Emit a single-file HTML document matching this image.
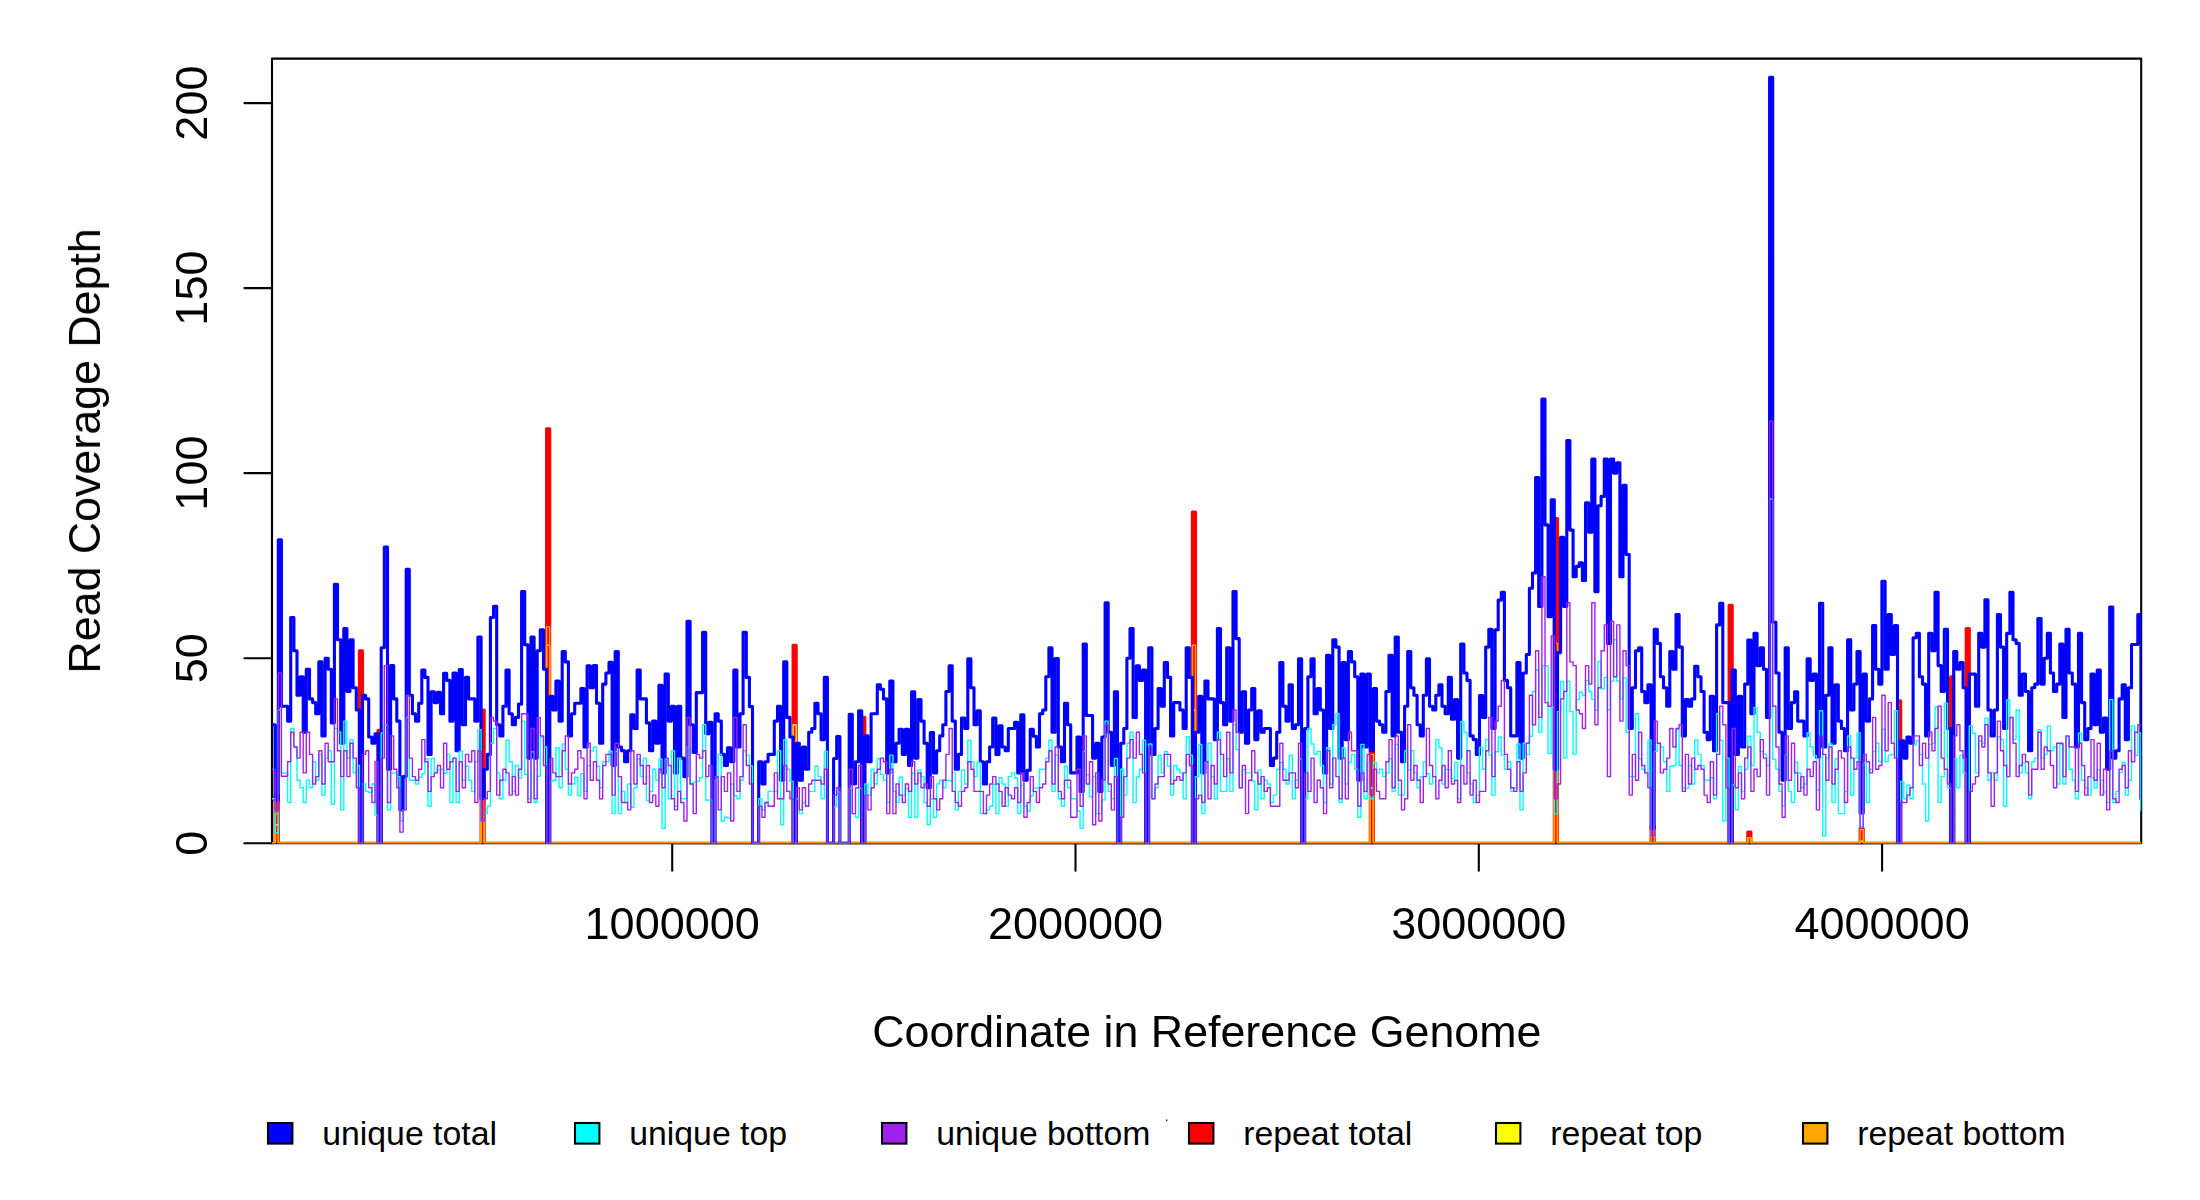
<!DOCTYPE html><html><head><meta charset="utf-8"><title>Read Coverage Depth</title>
<style>html,body{margin:0;padding:0;background:#fff}svg{display:block}text{font-family:"Liberation Sans",sans-serif;fill:#000}</style></head><body>
<svg width="2200" height="1200" viewBox="0 0 2200 1200">
<rect width="2200" height="1200" fill="#fff"/>
<g fill="none" stroke="#000" stroke-width="2.08" stroke-linecap="round" stroke-linejoin="round">
<rect x="272.0" y="58.6" width="1869.2" height="784.6"/>
<path d="M672.2 843.2H1882.1"/>
<path d="M672.2 843.2V870.8"/>
<path d="M1075.5 843.2V870.8"/>
<path d="M1478.8 843.2V870.8"/>
<path d="M1882.1 843.2V870.8"/>
<path d="M272.0 843.2V103.1"/>
<path d="M272.0 843.2H244.4"/>
<path d="M272.0 658.2H244.4"/>
<path d="M272.0 473.1H244.4"/>
<path d="M272.0 288.1H244.4"/>
<path d="M272.0 103.1H244.4"/>
</g>
<g font-size="45px" text-anchor="middle" opacity="0.999">
<text x="672.2" y="939.3">1000000</text>
<text x="1075.5" y="939.3">2000000</text>
<text x="1478.8" y="939.3">3000000</text>
<text x="1882.1" y="939.3">4000000</text>
<text transform="translate(206.9 843.2) rotate(-90)">0</text>
<text transform="translate(206.9 658.2) rotate(-90)">50</text>
<text transform="translate(206.9 473.1) rotate(-90)">100</text>
<text transform="translate(206.9 288.1) rotate(-90)">150</text>
<text transform="translate(206.9 103.1) rotate(-90)">200</text>
<text x="1206.8" y="1046.8" font-size="44.75px">Coordinate in Reference Genome</text>
<text transform="translate(100.0 450.9) rotate(-90)" font-size="44.75px">Read Coverage Depth</text>
</g>
<clipPath id="pc"><rect x="272.00" y="58.65" width="1869.25" height="784.55"/></clipPath>
<g fill="none" stroke-linejoin="round" stroke-linecap="round" clip-path="url(#pc)">
<path stroke="#ff0000" stroke-width="3.1" d="M272.0 843.2H275.1V795.1H278.3V843.2H281.4H284.5H287.6H290.7H293.9H297.0H300.1H303.2H306.3H309.5H312.6H315.7H318.8H321.9H325.1H328.2H331.3H334.4H337.5H340.7H343.8H346.9H350.0H353.1H356.3H359.4V650.8H362.5V843.2H365.6H368.7H371.9H375.0H378.1V730.3H381.2V843.2H384.3H387.5H390.6H393.7H396.8H399.9H403.1H406.2H409.3H412.4H415.5H418.7H421.8H424.9H428.0H431.1H434.3H437.4H440.5H443.6H446.7H449.9H453.0H456.1H459.2H462.3H465.5H468.6H471.7H474.8H477.9H481.1V710.0H484.2V843.2H487.3H490.4H493.5H496.7H499.8H502.9H506.0H509.1H512.3H515.4H518.5H521.6H524.7H527.9H531.0H534.1H537.2H540.3H543.5H546.6V428.7H549.7V843.2H552.8H555.9H559.1H562.2H565.3H568.4H571.5H574.7H577.8H580.9H584.0H587.1H590.3H593.4H596.5H599.6H602.7H605.9H609.0H612.1H615.2H618.3H621.5H624.6H627.7H630.8H633.9H637.1H640.2H643.3H646.4H649.5H652.7H655.8H658.9H662.0H665.1H668.3H671.4H674.5H677.6H680.7H683.9H687.0H690.1H693.2H696.3H699.5H702.6H705.7H708.8H711.9H715.1H718.2H721.3H724.4H727.5H730.7H733.8H736.9H740.0H743.1H746.3H749.4H752.5H755.6H758.7H761.9H765.0H768.1H771.2H774.3H777.5H780.6H783.7H786.8H789.9H793.1V645.2H796.2V843.2H799.3H802.4H805.5H808.7H811.8H814.9H818.0H821.1H824.3H827.4H830.5H833.6H836.7H839.9H843.0H846.1H849.2H852.3H855.5H858.6H861.7V717.4H864.8V843.2H867.9H871.1H874.2H877.3H880.4H883.5H886.7H889.8H892.9H896.0H899.1H902.3H905.4H908.5H911.6H914.7H917.9H921.0H924.1H927.2H930.3H933.5H936.6H939.7H942.8H945.9H949.1H952.2H955.3H958.4H961.5H964.7H967.8H970.9H974.0H977.1H980.3H983.4H986.5H989.6H992.7H995.9H999.0H1002.1H1005.2H1008.3H1011.5H1014.6H1017.7H1020.8H1023.9H1027.1H1030.2H1033.3H1036.4H1039.5H1042.7H1045.8H1048.9H1052.0H1055.1H1058.3H1061.4H1064.5H1067.6H1070.7H1073.9H1077.0H1080.1H1083.2H1086.3H1089.5H1092.6H1095.7H1098.8H1101.9H1105.1H1108.2H1111.3H1114.4H1117.5H1120.7H1123.8H1126.9H1130.0H1133.1H1136.3H1139.4H1142.5H1145.6H1148.7H1151.9H1155.0H1158.1H1161.2H1164.3H1167.5H1170.6H1173.7H1176.8H1179.9H1183.1H1186.2H1189.3H1192.4V512.0H1195.5V843.2H1198.7H1201.8H1204.9H1208.0H1211.1H1214.3H1217.4H1220.5H1223.6H1226.7H1229.9H1233.0H1236.1H1239.2H1242.3H1245.5H1248.6H1251.7H1254.8H1257.9H1261.1H1264.2H1267.3H1270.4H1273.5H1276.7H1279.8H1282.9H1286.0H1289.1H1292.3H1295.4H1298.5H1301.6H1304.7H1307.9H1311.0H1314.1H1317.2H1320.3H1323.5H1326.6H1329.7H1332.8H1335.9H1339.1H1342.2H1345.3H1348.4H1351.5H1354.7H1357.8H1360.9H1364.0H1367.1H1370.3V698.9H1373.4V843.2H1376.5H1379.6H1382.7H1385.9H1389.0H1392.1H1395.2H1398.3H1401.5H1404.6H1407.7H1410.8H1413.9H1417.1H1420.2H1423.3H1426.4H1429.5H1432.7H1435.8H1438.9H1442.0H1445.1H1448.3H1451.4H1454.5H1457.6H1460.7H1463.9H1467.0H1470.1H1473.2H1476.3H1479.5H1482.6H1485.7H1488.8H1491.9H1495.1H1498.2H1501.3H1504.4H1507.5H1510.7H1513.8H1516.9H1520.0H1523.1H1526.3H1529.4H1532.5H1535.6H1538.7H1541.9H1545.0H1548.1H1551.2H1554.3V518.6H1557.5V843.2H1560.6H1563.7H1566.8H1569.9H1573.1H1576.2H1579.3H1582.4H1585.5H1588.7H1591.8H1594.9H1598.0H1601.1H1604.3H1607.4H1610.5H1613.6H1616.7H1619.9H1623.0H1626.1H1629.2H1632.3H1635.5H1638.6H1641.7H1644.8H1647.9H1651.1V826.5H1654.2V843.2H1657.3H1660.4H1663.5H1666.7H1669.8H1672.9H1676.0H1679.1H1682.3H1685.4H1688.5H1691.6H1694.7H1697.9H1701.0H1704.1H1707.2H1710.3H1713.5H1716.6H1719.7H1722.8H1725.9H1729.1V605.2H1732.2V843.2H1735.3H1738.4H1741.5H1744.7H1747.8V832.1H1750.9V843.2H1754.0H1757.1H1760.3H1763.4H1766.5H1769.6H1772.7H1775.9H1779.0H1782.1H1785.2H1788.3H1791.5H1794.6H1797.7H1800.8H1803.9H1807.1H1810.2H1813.3H1816.4H1819.5H1822.7H1825.8H1828.9H1832.0H1835.1H1838.3H1841.4H1844.5H1847.6H1850.7H1853.9H1857.0H1860.1V828.4H1863.2V843.2H1866.3H1869.5H1872.6H1875.7H1878.8H1881.9H1885.1H1888.2H1891.3H1894.4H1897.5V700.7H1900.7V843.2H1903.8H1906.9H1910.0H1913.1H1916.3H1919.4H1922.5H1925.6H1928.7H1931.9H1935.0H1938.1H1941.2H1944.3H1947.5H1950.6V676.7H1953.7V843.2H1956.8H1959.9H1963.1H1966.2V628.6H1969.3V843.2H1972.4H1975.5H1978.7H1981.8H1984.9H1988.0H1991.1H1994.3H1997.4H2000.5H2003.6H2006.7H2009.9H2013.0H2016.1H2019.2H2022.3H2025.5H2028.6H2031.7H2034.8H2037.9H2041.1H2044.2H2047.3H2050.4H2053.5H2056.7H2059.8H2062.9H2066.0H2069.1H2072.3H2075.4H2078.5H2081.6H2084.7H2087.9H2091.0H2094.1H2097.2H2100.3H2103.5H2106.6H2109.7H2112.8H2115.9H2119.1H2122.2H2125.3H2128.4H2131.5H2134.7H2137.8H2140.9"/>
<path stroke="#ffff00" stroke-width="1.4" d="M272.0 843.2H275.1V824.7H278.3V843.2H281.4H284.5H287.6H290.7H293.9H297.0H300.1H303.2H306.3H309.5H312.6H315.7H318.8H321.9H325.1H328.2H331.3H334.4H337.5H340.7H343.8H346.9H350.0H353.1H356.3H359.4V747.0H362.5V843.2H365.6H368.7H371.9H375.0H378.1V787.7H381.2V843.2H384.3H387.5H390.6H393.7H396.8H399.9H403.1H406.2H409.3H412.4H415.5H418.7H421.8H424.9H428.0H431.1H434.3H437.4H440.5H443.6H446.7H449.9H453.0H456.1H459.2H462.3H465.5H468.6H471.7H474.8H477.9H481.1V780.3H484.2V843.2H487.3H490.4H493.5H496.7H499.8H502.9H506.0H509.1H512.3H515.4H518.5H521.6H524.7H527.9H531.0H534.1H537.2H540.3H543.5H546.6V645.2H549.7V843.2H552.8H555.9H559.1H562.2H565.3H568.4H571.5H574.7H577.8H580.9H584.0H587.1H590.3H593.4H596.5H599.6H602.7H605.9H609.0H612.1H615.2H618.3H621.5H624.6H627.7H630.8H633.9H637.1H640.2H643.3H646.4H649.5H652.7H655.8H658.9H662.0H665.1H668.3H671.4H674.5H677.6H680.7H683.9H687.0H690.1H693.2H696.3H699.5H702.6H705.7H708.8H711.9H715.1H718.2H721.3H724.4H727.5H730.7H733.8H736.9H740.0H743.1H746.3H749.4H752.5H755.6H758.7H761.9H765.0H768.1H771.2H774.3H777.5H780.6H783.7H786.8H789.9H793.1V724.8H796.2V843.2H799.3H802.4H805.5H808.7H811.8H814.9H818.0H821.1H824.3H827.4H830.5H833.6H836.7H839.9H843.0H846.1H849.2H852.3H855.5H858.6H861.7V780.3H864.8V843.2H867.9H871.1H874.2H877.3H880.4H883.5H886.7H889.8H892.9H896.0H899.1H902.3H905.4H908.5H911.6H914.7H917.9H921.0H924.1H927.2H930.3H933.5H936.6H939.7H942.8H945.9H949.1H952.2H955.3H958.4H961.5H964.7H967.8H970.9H974.0H977.1H980.3H983.4H986.5H989.6H992.7H995.9H999.0H1002.1H1005.2H1008.3H1011.5H1014.6H1017.7H1020.8H1023.9H1027.1H1030.2H1033.3H1036.4H1039.5H1042.7H1045.8H1048.9H1052.0H1055.1H1058.3H1061.4H1064.5H1067.6H1070.7H1073.9H1077.0H1080.1H1083.2H1086.3H1089.5H1092.6H1095.7H1098.8H1101.9H1105.1H1108.2H1111.3H1114.4H1117.5H1120.7H1123.8H1126.9H1130.0H1133.1H1136.3H1139.4H1142.5H1145.6H1148.7H1151.9H1155.0H1158.1H1161.2H1164.3H1167.5H1170.6H1173.7H1176.8H1179.9H1183.1H1186.2H1189.3H1192.4V710.0H1195.5V843.2H1198.7H1201.8H1204.9H1208.0H1211.1H1214.3H1217.4H1220.5H1223.6H1226.7H1229.9H1233.0H1236.1H1239.2H1242.3H1245.5H1248.6H1251.7H1254.8H1257.9H1261.1H1264.2H1267.3H1270.4H1273.5H1276.7H1279.8H1282.9H1286.0H1289.1H1292.3H1295.4H1298.5H1301.6H1304.7H1307.9H1311.0H1314.1H1317.2H1320.3H1323.5H1326.6H1329.7H1332.8H1335.9H1339.1H1342.2H1345.3H1348.4H1351.5H1354.7H1357.8H1360.9H1364.0H1367.1H1370.3V787.7H1373.4V843.2H1376.5H1379.6H1382.7H1385.9H1389.0H1392.1H1395.2H1398.3H1401.5H1404.6H1407.7H1410.8H1413.9H1417.1H1420.2H1423.3H1426.4H1429.5H1432.7H1435.8H1438.9H1442.0H1445.1H1448.3H1451.4H1454.5H1457.6H1460.7H1463.9H1467.0H1470.1H1473.2H1476.3H1479.5H1482.6H1485.7H1488.8H1491.9H1495.1H1498.2H1501.3H1504.4H1507.5H1510.7H1513.8H1516.9H1520.0H1523.1H1526.3H1529.4H1532.5H1535.6H1538.7H1541.9H1545.0H1548.1H1551.2H1554.3V721.1H1557.5V843.2H1560.6H1563.7H1566.8H1569.9H1573.1H1576.2H1579.3H1582.4H1585.5H1588.7H1591.8H1594.9H1598.0H1601.1H1604.3H1607.4H1610.5H1613.6H1616.7H1619.9H1623.0H1626.1H1629.2H1632.3H1635.5H1638.6H1641.7H1644.8H1647.9H1651.1H1654.2H1657.3H1660.4H1663.5H1666.7H1669.8H1672.9H1676.0H1679.1H1682.3H1685.4H1688.5H1691.6H1694.7H1697.9H1701.0H1704.1H1707.2H1710.3H1713.5H1716.6H1719.7H1722.8H1725.9H1729.1V724.8H1732.2V843.2H1735.3H1738.4H1741.5H1744.7H1747.8V837.6H1750.9V843.2H1754.0H1757.1H1760.3H1763.4H1766.5H1769.6H1772.7H1775.9H1779.0H1782.1H1785.2H1788.3H1791.5H1794.6H1797.7H1800.8H1803.9H1807.1H1810.2H1813.3H1816.4H1819.5H1822.7H1825.8H1828.9H1832.0H1835.1H1838.3H1841.4H1844.5H1847.6H1850.7H1853.9H1857.0H1860.1V841.3H1863.2V843.2H1866.3H1869.5H1872.6H1875.7H1878.8H1881.9H1885.1H1888.2H1891.3H1894.4H1897.5V772.9H1900.7V843.2H1903.8H1906.9H1910.0H1913.1H1916.3H1919.4H1922.5H1925.6H1928.7H1931.9H1935.0H1938.1H1941.2H1944.3H1947.5H1950.6V761.8H1953.7V843.2H1956.8H1959.9H1963.1H1966.2V735.9H1969.3V843.2H1972.4H1975.5H1978.7H1981.8H1984.9H1988.0H1991.1H1994.3H1997.4H2000.5H2003.6H2006.7H2009.9H2013.0H2016.1H2019.2H2022.3H2025.5H2028.6H2031.7H2034.8H2037.9H2041.1H2044.2H2047.3H2050.4H2053.5H2056.7H2059.8H2062.9H2066.0H2069.1H2072.3H2075.4H2078.5H2081.6H2084.7H2087.9H2091.0H2094.1H2097.2H2100.3H2103.5H2106.6H2109.7H2112.8H2115.9H2119.1H2122.2H2125.3H2128.4H2131.5H2134.7H2137.8H2140.9"/>
<path stroke="#ffa500" stroke-width="1.4" d="M272.0 843.2H275.1V813.6H278.3V843.2H281.4H284.5H287.6H290.7H293.9H297.0H300.1H303.2H306.3H309.5H312.6H315.7H318.8H321.9H325.1H328.2H331.3H334.4H337.5H340.7H343.8H346.9H350.0H353.1H356.3H359.4V747.0H362.5V843.2H365.6H368.7H371.9H375.0H378.1V785.8H381.2V843.2H384.3H387.5H390.6H393.7H396.8H399.9H403.1H406.2H409.3H412.4H415.5H418.7H421.8H424.9H428.0H431.1H434.3H437.4H440.5H443.6H446.7H449.9H453.0H456.1H459.2H462.3H465.5H468.6H471.7H474.8H477.9H481.1V772.9H484.2V843.2H487.3H490.4H493.5H496.7H499.8H502.9H506.0H509.1H512.3H515.4H518.5H521.6H524.7H527.9H531.0H534.1H537.2H540.3H543.5H546.6V626.7H549.7V843.2H552.8H555.9H559.1H562.2H565.3H568.4H571.5H574.7H577.8H580.9H584.0H587.1H590.3H593.4H596.5H599.6H602.7H605.9H609.0H612.1H615.2H618.3H621.5H624.6H627.7H630.8H633.9H637.1H640.2H643.3H646.4H649.5H652.7H655.8H658.9H662.0H665.1H668.3H671.4H674.5H677.6H680.7H683.9H687.0H690.1H693.2H696.3H699.5H702.6H705.7H708.8H711.9H715.1H718.2H721.3H724.4H727.5H730.7H733.8H736.9H740.0H743.1H746.3H749.4H752.5H755.6H758.7H761.9H765.0H768.1H771.2H774.3H777.5H780.6H783.7H786.8H789.9H793.1V741.4H796.2V843.2H799.3H802.4H805.5H808.7H811.8H814.9H818.0H821.1H824.3H827.4H830.5H833.6H836.7H839.9H843.0H846.1H849.2H852.3H855.5H858.6H861.7V780.3H864.8V843.2H867.9H871.1H874.2H877.3H880.4H883.5H886.7H889.8H892.9H896.0H899.1H902.3H905.4H908.5H911.6H914.7H917.9H921.0H924.1H927.2H930.3H933.5H936.6H939.7H942.8H945.9H949.1H952.2H955.3H958.4H961.5H964.7H967.8H970.9H974.0H977.1H980.3H983.4H986.5H989.6H992.7H995.9H999.0H1002.1H1005.2H1008.3H1011.5H1014.6H1017.7H1020.8H1023.9H1027.1H1030.2H1033.3H1036.4H1039.5H1042.7H1045.8H1048.9H1052.0H1055.1H1058.3H1061.4H1064.5H1067.6H1070.7H1073.9H1077.0H1080.1H1083.2H1086.3H1089.5H1092.6H1095.7H1098.8H1101.9H1105.1H1108.2H1111.3H1114.4H1117.5H1120.7H1123.8H1126.9H1130.0H1133.1H1136.3H1139.4H1142.5H1145.6H1148.7H1151.9H1155.0H1158.1H1161.2H1164.3H1167.5H1170.6H1173.7H1176.8H1179.9H1183.1H1186.2H1189.3H1192.4V645.2H1195.5V843.2H1198.7H1201.8H1204.9H1208.0H1211.1H1214.3H1217.4H1220.5H1223.6H1226.7H1229.9H1233.0H1236.1H1239.2H1242.3H1245.5H1248.6H1251.7H1254.8H1257.9H1261.1H1264.2H1267.3H1270.4H1273.5H1276.7H1279.8H1282.9H1286.0H1289.1H1292.3H1295.4H1298.5H1301.6H1304.7H1307.9H1311.0H1314.1H1317.2H1320.3H1323.5H1326.6H1329.7H1332.8H1335.9H1339.1H1342.2H1345.3H1348.4H1351.5H1354.7H1357.8H1360.9H1364.0H1367.1H1370.3V754.4H1373.4V843.2H1376.5H1379.6H1382.7H1385.9H1389.0H1392.1H1395.2H1398.3H1401.5H1404.6H1407.7H1410.8H1413.9H1417.1H1420.2H1423.3H1426.4H1429.5H1432.7H1435.8H1438.9H1442.0H1445.1H1448.3H1451.4H1454.5H1457.6H1460.7H1463.9H1467.0H1470.1H1473.2H1476.3H1479.5H1482.6H1485.7H1488.8H1491.9H1495.1H1498.2H1501.3H1504.4H1507.5H1510.7H1513.8H1516.9H1520.0H1523.1H1526.3H1529.4H1532.5H1535.6H1538.7H1541.9H1545.0H1548.1H1551.2H1554.3V643.4H1557.5V843.2H1560.6H1563.7H1566.8H1569.9H1573.1H1576.2H1579.3H1582.4H1585.5H1588.7H1591.8H1594.9H1598.0H1601.1H1604.3H1607.4H1610.5H1613.6H1616.7H1619.9H1623.0H1626.1H1629.2H1632.3H1635.5H1638.6H1641.7H1644.8H1647.9H1651.1V826.5H1654.2V843.2H1657.3H1660.4H1663.5H1666.7H1669.8H1672.9H1676.0H1679.1H1682.3H1685.4H1688.5H1691.6H1694.7H1697.9H1701.0H1704.1H1707.2H1710.3H1713.5H1716.6H1719.7H1722.8H1725.9H1729.1V724.8H1732.2V843.2H1735.3H1738.4H1741.5H1744.7H1747.8V837.6H1750.9V843.2H1754.0H1757.1H1760.3H1763.4H1766.5H1769.6H1772.7H1775.9H1779.0H1782.1H1785.2H1788.3H1791.5H1794.6H1797.7H1800.8H1803.9H1807.1H1810.2H1813.3H1816.4H1819.5H1822.7H1825.8H1828.9H1832.0H1835.1H1838.3H1841.4H1844.5H1847.6H1850.7H1853.9H1857.0H1860.1V829.5H1863.2V843.2H1866.3H1869.5H1872.6H1875.7H1878.8H1881.9H1885.1H1888.2H1891.3H1894.4H1897.5V771.0H1900.7V843.2H1903.8H1906.9H1910.0H1913.1H1916.3H1919.4H1922.5H1925.6H1928.7H1931.9H1935.0H1938.1H1941.2H1944.3H1947.5H1950.6V758.1H1953.7V843.2H1956.8H1959.9H1963.1H1966.2V735.9H1969.3V843.2H1972.4H1975.5H1978.7H1981.8H1984.9H1988.0H1991.1H1994.3H1997.4H2000.5H2003.6H2006.7H2009.9H2013.0H2016.1H2019.2H2022.3H2025.5H2028.6H2031.7H2034.8H2037.9H2041.1H2044.2H2047.3H2050.4H2053.5H2056.7H2059.8H2062.9H2066.0H2069.1H2072.3H2075.4H2078.5H2081.6H2084.7H2087.9H2091.0H2094.1H2097.2H2100.3H2103.5H2106.6H2109.7H2112.8H2115.9H2119.1H2122.2H2125.3H2128.4H2131.5H2134.7H2137.8H2140.9"/>
<path stroke="#0000ff" stroke-width="3.1" d="M272.0 724.8H275.1V800.3H278.3V539.7H281.4V706.3H284.5H287.6V721.1H290.7V617.5H293.9V650.8H297.0V695.2H300.1V676.7H303.2V732.2H306.3V669.3H309.5V698.9H312.6V702.6H315.7V713.7H318.8V661.9H321.9V735.9H325.1V658.2H328.2V669.3H331.3V722.9H334.4V584.2H337.5V639.7H340.7V743.3H343.8V628.6H346.9V691.5H350.0V639.7H353.1V687.8H356.3V710.0H359.4V843.2H362.5V695.2H365.6V698.9H368.7V737.0H371.9V743.3H375.0V733.7H378.1V843.2H381.2V647.8H384.3V547.1H387.5V769.2H390.6V665.6H393.7V698.9H396.8V721.1H399.9V809.9H403.1V776.6H406.2V569.3H409.3V695.2H412.4V713.7H415.5V721.1H418.7V703.3H421.8V670.0H424.9V677.4H428.0V754.4H431.1V691.8H434.3V702.6H437.4V692.2H440.5V713.7H443.6V673.3H446.7V680.4H449.9V721.1H453.0V673.0H456.1V750.7H459.2V669.6H462.3V724.8H465.5V677.4H468.6V698.9H471.7H474.8V721.1H477.9V637.1H481.1V798.8H484.2V769.2H487.3V754.4H490.4V617.5H493.5V606.4H496.7V724.8H499.8V735.9H502.9V706.3H506.0V670.0H509.1V713.7H512.3V724.8H515.4V717.4H518.5V704.1H521.6V591.6H524.7V644.8H527.9V758.1H531.0V637.1H534.1V758.1H537.2V650.8H540.3V629.7H543.5V669.3H546.6V843.2H549.7V696.3H552.8V710.0H555.9V681.1H559.1V721.1H562.2V651.5H565.3V661.9H568.4V735.9H571.5V713.7H574.7V703.3H577.8H580.9V688.5H584.0V747.0H587.1V665.9H590.3V687.8H593.4V665.6H596.5V703.3H599.6V743.3H602.7V684.1H605.9V673.0H609.0V662.2H612.1V765.5H615.2V651.5H618.3V747.0H621.5V750.7H624.6V761.8H627.7V750.7H630.8V714.8H633.9V728.5H637.1V670.0H640.2V698.9H643.3H646.4V722.9H649.5V750.7H652.7V721.1H655.8V743.3H658.9V685.2H662.0V772.9H665.1V674.1H668.3V721.1H671.4V706.3H674.5V772.9H677.6V706.3H680.7V758.1H683.9V776.6H687.0V621.2H690.1V724.8H693.2V752.5H696.3V692.6H699.5H702.6V632.3H705.7V733.7H708.8V722.2H711.9V843.2H715.1V713.7H718.2V721.1H721.3V754.4H724.4V765.5H727.5V747.7H730.7V761.8H733.8V670.0H736.9V747.0H740.0V713.7H743.1V632.3H746.3V677.4H749.4V706.6H752.5V843.2H755.6H758.7V761.8H761.9V784.0H765.0V761.8H768.1V754.4H771.2H774.3V721.1H777.5V706.3H780.6V780.3H783.7V661.9H786.8V717.4H789.9V737.0H793.1V843.2H796.2V743.3H799.3V780.3H802.4V747.0H805.5V769.2H808.7V732.2H811.8V728.5H814.9V703.3H818.0V713.7H821.1V739.6H824.3V677.4H827.4V843.2H830.5H833.6V758.5H836.7V736.6H839.9V843.2H843.0H846.1H849.2V714.4H852.3V784.0H855.5V761.8H858.6V710.7H861.7V843.2H864.8V735.9H867.9V761.8H871.1V713.7H874.2H877.3V684.8H880.4V689.3H883.5V698.9H886.7V772.9H889.8V681.1H892.9V761.8H896.0V743.3H899.1V729.2H902.3V754.4H905.4V729.2H908.5V765.5H911.6V691.8H914.7V758.1H917.9V699.6H921.0V721.1H924.1V743.3H927.2V787.7H930.3V732.5H933.5V772.9H936.6V750.7H939.7V735.9H942.8V724.8H945.9V691.5H949.1V665.9H952.2V721.1H955.3V769.2H958.4V754.4H961.5V718.1H964.7V728.5H967.8V658.9H970.9V687.8H974.0V724.8H977.1V710.7H980.3V761.8H983.4V784.0H986.5V761.8H989.6V747.0H992.7V718.1H995.9V754.4H999.0V725.9H1002.1V747.0H1005.2V750.7H1008.3V728.5H1011.5H1014.6V722.2H1017.7V772.9H1020.8V714.8H1023.9V780.3H1027.1V770.3H1030.2V729.2H1033.3V736.2H1036.4V747.0H1039.5V713.7H1042.7V710.0H1045.8V676.7H1048.9V647.8H1052.0V732.2H1055.1V658.5H1058.3V747.0H1061.4V761.8H1064.5V703.3H1067.6V724.8H1070.7V772.9H1073.9H1077.0V737.0H1080.1V791.4H1083.2V644.1H1086.3V715.5H1089.5H1092.6V758.1H1095.7V743.3H1098.8V791.4H1101.9V737.0H1105.1V602.7H1108.2V732.2H1111.3V765.5H1114.4V691.8H1117.5V843.2H1120.7V743.3H1123.8V728.5H1126.9V658.2H1130.0V628.6H1133.1V717.4H1136.3V665.9H1139.4V680.4H1142.5V670.0H1145.6V843.2H1148.7V647.8H1151.9V754.4H1155.0V728.5H1158.1V688.5H1161.2V706.3H1164.3V662.6H1167.5V677.4H1170.6V735.9H1173.7V702.6H1176.8H1179.9V710.0H1183.1V728.5H1186.2V647.8H1189.3V677.4H1192.4V843.2H1195.5V732.2H1198.7V696.3H1201.8V772.9H1204.9V681.1H1208.0V698.9H1211.1H1214.3V739.6H1217.4V628.6H1220.5V702.6H1223.6V724.8H1226.7V647.8H1229.9V721.1H1233.0V591.6H1236.1V638.6H1239.2V732.2H1242.3V691.8H1245.5V743.3H1248.6V710.0H1251.7V688.5H1254.8V739.6H1257.9V710.7H1261.1V732.2H1264.2V728.5H1267.3H1270.4V765.5H1273.5V758.1H1276.7V732.2H1279.8V662.6H1282.9V706.3H1286.0V721.1H1289.1V684.8H1292.3V728.5H1295.4V724.8H1298.5V658.9H1301.6V843.2H1304.7V728.5H1307.9V676.7H1311.0V658.9H1314.1V713.7H1317.2V688.5H1320.3V710.0H1323.5V772.9H1326.6V655.2H1329.7V728.5H1332.8V639.7H1335.9V647.1H1339.1V758.1H1342.2V662.6H1345.3V739.6H1348.4V651.5H1351.5V661.9H1354.7V676.7H1357.8V780.3H1360.9V674.1H1364.0V747.0H1367.1V674.1H1370.3V750.7H1373.4V688.5H1376.5V721.1H1379.6V724.8H1382.7V732.2H1385.9V691.5H1389.0V655.2H1392.1V735.9H1395.2V637.1H1398.3V732.2H1401.5V761.8H1404.6V706.3H1407.7V651.5H1410.8V687.8H1413.9V695.2H1417.1V724.8H1420.2V735.9H1423.3V695.2H1426.4V658.9H1429.5V706.3H1432.7V710.0H1435.8V695.2H1438.9V684.8H1442.0V706.3H1445.1V713.7H1448.3V677.4H1451.4V719.2H1454.5V699.6H1457.6V758.1H1460.7V644.1H1463.9V673.0H1467.0V680.4H1470.1V735.9H1473.2V739.6H1476.3V754.4H1479.5V695.5H1482.6V717.4H1485.7V647.1H1488.8V629.3H1491.9V728.5H1495.1V629.7H1498.2V600.1H1501.3V592.3H1504.4V680.4H1507.5V687.8H1510.7V735.9H1513.8H1516.9V662.6H1520.0V758.1H1523.1V673.0H1526.3V654.5H1529.4V588.2H1532.5V573.0H1535.6V477.6H1538.7V606.4H1541.9V399.1H1545.0V524.9H1548.1V616.7H1551.2V499.8H1554.3V769.2H1557.5V652.6H1560.6V537.2H1563.7V606.4H1566.8V440.6H1569.9V530.1H1573.1V576.7H1576.2V566.4H1579.3V562.7H1582.4V580.5H1585.5V502.7H1588.7V532.3H1591.8V459.1H1594.9V591.6H1598.0V505.7H1601.1V496.4H1604.3V459.1H1607.4V643.4H1610.5V459.1H1613.6V473.1H1616.7V462.8H1619.9V576.7H1623.0V485.3H1626.1V554.5H1629.2V728.5H1632.3V687.8H1635.5V650.8H1638.6V647.8H1641.7V691.5H1644.8V702.6H1647.9V684.8H1651.1V828.4H1654.2V629.3H1657.3V643.4H1660.4V676.7H1663.5V687.8H1666.7V706.3H1669.8V651.5H1672.9V669.3H1676.0V614.5H1679.1V647.1H1682.3V735.9H1685.4V699.6H1688.5V706.3H1691.6V698.9H1694.7V666.3H1697.9V676.7H1701.0V691.5H1704.1V732.2H1707.2V739.6H1710.3V696.3H1713.5V750.7H1716.6V624.9H1719.7V603.4H1722.8V702.6H1725.9H1729.1V843.2H1732.2V670.0H1735.3V754.4H1738.4V696.3H1741.5V747.0H1744.7V684.1H1747.8V640.0H1750.9V713.7H1754.0V633.4H1757.1V665.6H1760.3V647.8H1763.4V669.3H1766.5V717.4H1769.6V77.2H1772.7V622.3H1775.9V673.0H1779.0V732.2H1782.1V780.3H1785.2V647.8H1788.3V728.5H1791.5V702.6H1794.6V691.8H1797.7V721.1H1800.8H1803.9V735.9H1807.1V658.9H1810.2V680.4H1813.3V674.1H1816.4V757.0H1819.5V603.4H1822.7V747.0H1825.8V695.2H1828.9V647.8H1832.0V743.3H1835.1V684.8H1838.3V721.1H1841.4V728.5H1844.5V750.7H1847.6V639.7H1850.7V710.0H1853.9V684.1H1857.0V651.5H1860.1V812.9H1863.2V674.1H1866.3V721.1H1869.5V698.9H1872.6V625.6H1875.7V669.3H1878.8V684.1H1881.9V581.2H1885.1V669.3H1888.2V614.5H1891.3V654.5H1894.4V625.6H1897.5V843.2H1900.7V740.7H1903.8V758.1H1906.9V737.0H1910.0V743.3H1913.1V637.8H1916.3V633.4H1919.4V676.7H1922.5V684.1H1925.6V735.9H1928.7V633.4H1931.9V650.8H1935.0V592.3H1938.1V665.6H1941.2V691.5H1944.3V629.3H1947.5V728.5H1950.6V843.2H1953.7V651.5H1956.8V669.3H1959.9V662.6H1963.1V687.8H1966.2V843.2H1969.3V674.1H1972.4H1975.5V706.3H1978.7V633.4H1981.8V647.1H1984.9V599.7H1988.0V710.0H1991.1V735.9H1994.3V710.0H1997.4V614.5H2000.5V647.1H2003.6V728.5H2006.7V633.4H2009.9V592.3H2013.0V639.7H2016.1V643.4H2019.2V695.2H2022.3V674.1H2025.5V691.5H2028.6V750.7H2031.7V687.8H2034.8V684.1H2037.9V618.6H2041.1V684.1H2044.2V658.2H2047.3V633.4H2050.4V673.0H2053.5V691.5H2056.7V684.1H2059.8V644.1H2062.9V717.4H2066.0V629.3H2069.1V673.0H2072.3V684.1H2075.4V747.0H2078.5V633.4H2081.6V702.6H2084.7V739.6H2087.9V728.5H2091.0V674.1H2094.1V724.8H2097.2V670.0H2100.3V732.2H2103.5V718.1H2106.6V769.2H2109.7V607.1H2112.8V758.1H2115.9V750.7H2119.1V698.9H2122.2V684.8H2125.3V739.6H2128.4V687.8H2131.5V644.5H2134.7H2137.8V614.5H2140.9V798.8"/>
<path stroke="#00ffff" stroke-width="1.4" d="M272.0 798.8H275.1V832.8H278.3V710.0H281.4V773.3H284.5H287.6V802.5H290.7V728.5H293.9V747.0H297.0V780.3H300.1V787.7H303.2V802.5H306.3V780.3H309.5V787.7H312.6V761.8H315.7V780.3H318.8V754.4H321.9V795.1H325.1V758.1H328.2V750.7H331.3V804.3H334.4V728.5H337.5V732.2H340.7V809.9H343.8V721.1H346.9V758.1H350.0V739.6H353.1V772.9H356.3V765.5H359.4V843.2H362.5V784.0H365.6V791.4H368.7V792.5H371.9V784.0H375.0V815.1H378.1V843.2H381.2V732.9H384.3V724.8H387.5V809.9H390.6V772.9H393.7H396.8V776.6H399.9V821.0H403.1V809.9H406.2V717.4H409.3V780.3H412.4H415.5V784.0H418.7V777.3H421.8V773.6H424.9V758.8H428.0V806.2H431.1V758.5H434.3V772.9H437.4V769.9H440.5V769.2H443.6V773.3H446.7V754.4H449.9V802.5H453.0V758.1H456.1V802.5H459.2V751.1H462.3V780.3H465.5V766.2H468.6V780.3H471.7V791.4H474.8V761.8H477.9V729.6H481.1V821.0H484.2V813.6H487.3V806.2H490.4V743.3H493.5V728.5H496.7V772.9H499.8V798.8H502.9V780.3H506.0V740.3H509.1V761.8H512.3V791.4H515.4V765.5H518.5V778.1H521.6V721.1H524.7V774.4H527.9V798.8H531.0V751.8H534.1V802.5H537.2V776.2H540.3V737.0H543.5V747.0H546.6V843.2H549.7V781.4H552.8V780.3H555.9V747.7H559.1V787.7H562.2V744.0H565.3V769.2H568.4V795.1H571.5V784.0H574.7V777.3H577.8V795.8H580.9V773.6H584.0V791.4H587.1V765.9H590.3V750.7H593.4V747.0H596.5V766.2H599.6V787.7H602.7V761.8H605.9H609.0V751.1H612.1V813.6H615.2V751.4H618.3V813.6H621.5V791.4H624.6V802.5H627.7V784.0H630.8V807.3H633.9V787.7H637.1V758.8H640.2V776.6H643.3V758.1H646.4V800.6H649.5V791.4H652.7V769.2H655.8V780.3H658.9V759.2H662.0V828.4H665.1V759.2H668.3V798.8H671.4V750.7H674.5V806.2H677.6V758.1H680.7V798.8H683.9H687.0V747.0H690.1V784.0H693.2V782.1H696.3V781.4H699.5V777.7H702.6V724.8H705.7V800.3H708.8V799.9H711.9V843.2H715.1V780.3H718.2V754.4H721.3V821.0H724.4V817.3H727.5V818.0H730.7V784.0H733.8V795.8H736.9V798.8H740.0V780.3H743.1V750.7H746.3V755.1H749.4V765.9H752.5V843.2H755.6H758.7V798.8H761.9V809.9H765.0V802.5H768.1V791.4H771.2H774.3H777.5V750.7H780.6V824.7H783.7V739.6H786.8V769.2H789.9V781.4H793.1V843.2H796.2V798.8H799.3V813.6H802.4V802.5H805.5V806.2H808.7V791.4H811.8H814.9V766.2H818.0V776.6H821.1V798.8H824.3V751.4H827.4V843.2H830.5H833.6V806.6H836.7V792.1H839.9V843.2H843.0H846.1H849.2V788.4H852.3V813.6H855.5V817.3H858.6V788.4H861.7V843.2H864.8V784.0H867.9V795.1H871.1V769.2H874.2V784.0H877.3V758.8H880.4V774.4H883.5V780.3H886.7V802.5H889.8V755.1H892.9V791.4H896.0V802.5H899.1V777.3H902.3V795.1H905.4V788.4H908.5V817.3H911.6V773.3H914.7V817.3H917.9V769.9H921.0V776.6H924.1V802.5H927.2V824.7H930.3V799.2H933.5V817.3H936.6V784.0H939.7V780.3H942.8V787.7H945.9V780.3H949.1V780.7H952.2V772.9H955.3V809.9H958.4V791.4H961.5V769.9H964.7V784.0H967.8V740.3H970.9V761.8H974.0V776.6H977.1V762.5H980.3V813.6H983.4H986.5V809.9H989.6V806.2H992.7V784.7H995.9V813.6H999.0V777.7H1002.1V784.0H1005.2V806.2H1008.3V776.6H1011.5V772.9H1014.6V777.7H1017.7V813.6H1020.8V785.1H1023.9V806.2H1027.1V811.0H1030.2V795.8H1033.3V788.1H1036.4V787.7H1039.5V769.2H1042.7H1045.8V758.1H1048.9V740.3H1052.0V791.4H1055.1V754.8H1058.3V798.8H1061.4V806.2H1064.5V766.2H1067.6V787.7H1070.7V798.8H1073.9H1077.0V811.0H1080.1V828.4H1083.2V751.4H1086.3V774.7H1089.5V796.9H1092.6V776.6H1095.7V813.6H1098.8H1101.9V799.9H1105.1V721.1H1108.2V791.4H1111.3V798.8H1114.4V758.5H1117.5V843.2H1120.7V769.2H1123.8V795.1H1126.9V743.3H1130.0V732.2H1133.1V802.5H1136.3V777.0H1139.4V769.2H1142.5V740.3H1145.6V843.2H1148.7V744.0H1151.9V798.8H1155.0V787.7H1158.1V755.1H1161.2V772.9H1164.3V751.4H1167.5V766.2H1170.6V795.1H1173.7V765.5H1176.8V769.2H1179.9V772.9H1183.1V798.8H1186.2V736.6H1189.3V755.1H1192.4V843.2H1195.5V776.6H1198.7V744.4H1201.8V813.6H1204.9V762.5H1208.0V743.3H1211.1V776.6H1214.3V798.8H1217.4V732.2H1220.5V791.4H1223.6H1226.7V758.8H1229.9V791.4H1233.0V724.8H1236.1V749.6H1239.2V787.7H1242.3V769.6H1245.5V772.9H1248.6H1251.7V781.0H1254.8V809.9H1257.9V769.9H1261.1V798.8H1264.2V780.3H1267.3V784.0H1270.4V802.5H1273.5V795.1H1276.7V769.2H1279.8V762.5H1282.9V769.2H1286.0V784.0H1289.1V755.1H1292.3V798.8H1295.4V780.3H1298.5V758.8H1301.6V843.2H1304.7V798.8H1307.9V728.5H1311.0V744.0H1314.1V754.4H1317.2V751.4H1320.3V765.5H1323.5V802.5H1326.6V747.7H1329.7V784.0H1332.8V724.8H1335.9V713.7H1339.1V802.5H1342.2V747.7H1345.3V784.0H1348.4V762.5H1351.5V754.4H1354.7V769.2H1357.8V817.3H1360.9V744.4H1364.0V798.8H1367.1V762.9H1370.3V798.8H1373.4V762.5H1376.5V772.9H1379.6V769.2H1382.7V776.6H1385.9V772.9H1389.0V758.8H1392.1V791.4H1395.2V744.4H1398.3V795.1H1401.5H1404.6V750.7H1407.7V769.9H1410.8V750.7H1413.9V772.9H1417.1V787.7H1420.2V776.6H1423.3V761.8H1426.4V773.6H1429.5V784.0H1432.7V776.6H1435.8V739.6H1438.9V747.7H1442.0V784.0H1445.1V769.2H1448.3V769.9H1451.4V778.4H1454.5V762.5H1457.6V798.8H1460.7V721.8H1463.9V732.2H1467.0V772.9H1470.1V784.0H1473.2V802.5H1476.3V795.1H1479.5V747.4H1482.6V769.2H1485.7V739.6H1488.8V755.1H1491.9V795.1H1495.1V751.8H1498.2V737.0H1501.3V755.1H1504.4V769.2H1507.5V761.8H1510.7V791.4H1513.8V787.7H1516.9V744.0H1520.0V809.9H1523.1V743.3H1526.3V754.4H1529.4V736.2H1532.5V691.5H1535.6V670.0H1538.7V732.2H1541.9V665.6H1545.0H1548.1V753.6H1551.2V707.0H1554.3V813.6H1557.5V711.8H1560.6V681.5H1563.7V758.1H1566.8V681.1H1569.9V711.5H1573.1V754.4H1576.2V699.6H1579.3V692.2H1582.4V695.2H1585.5V680.4H1588.7V691.5H1591.8V699.6H1594.9V710.0H1598.0V661.1H1601.1V688.9H1604.3V677.4H1607.4V710.0H1610.5V681.1H1613.6V639.7H1616.7V681.1H1619.9V698.9H1623.0V677.8H1626.1V732.2H1629.2V776.6H1632.3H1635.5V713.7H1638.6V758.8H1641.7V769.2H1644.8V772.9H1647.9V740.3H1651.1V835.8H1654.2V751.4H1657.3V743.3H1660.4V747.0H1663.5V761.8H1666.7V791.4H1669.8V766.2H1672.9V765.5H1676.0V729.2H1679.1V765.5H1682.3V787.7H1685.4V788.4H1688.5V765.5H1691.6V784.0H1694.7V740.3H1697.9V754.4H1701.0V765.5H1704.1V780.3H1707.2H1710.3V777.7H1713.5V798.8H1716.6V713.7H1719.7V740.3H1722.8V821.0H1725.9V758.1H1729.1V843.2H1732.2V784.7H1735.3V809.9H1738.4V766.6H1741.5V791.4H1744.7V769.2H1747.8V736.2H1750.9V765.5H1754.0V707.4H1757.1V732.2H1760.3V751.4H1763.4V754.4H1766.5V765.5H1769.6V499.0H1772.7V759.2H1775.9V769.2H1779.0V791.4H1782.1V806.2H1785.2V755.1H1788.3V791.4H1791.5V802.5H1794.6V762.2H1797.7V772.9H1800.8V787.7H1803.9V784.0H1807.1V732.9H1810.2V747.0H1813.3V755.5H1816.4V790.3H1819.5V710.7H1822.7V835.8H1825.8V758.1H1828.9V744.0H1832.0V802.5H1835.1V758.8H1838.3V813.6H1841.4H1844.5V791.4H1847.6V735.9H1850.7V795.1H1853.9V758.1H1857.0V732.9H1860.1V827.7H1863.2V762.9H1866.3V802.5H1869.5V769.2H1872.6V751.4H1875.7V743.3H1878.8V761.8H1881.9V729.2H1885.1V761.8H1888.2V755.1H1891.3V754.4H1894.4V710.7H1897.5V843.2H1900.7V781.4H1903.8V798.8H1906.9V785.1H1910.0V798.8H1913.1V745.1H1916.3V740.7H1919.4V754.4H1922.5V784.0H1925.6V821.0H1928.7V744.4H1931.9V743.3H1935.0V707.0H1938.1V802.5H1941.2V776.6H1944.3V703.3H1947.5V787.7H1950.6V843.2H1953.7V758.8H1956.8V787.7H1959.9V755.1H1963.1V772.9H1966.2V843.2H1969.3V725.9H1972.4V733.3H1975.5V772.9H1978.7V740.7H1981.8V743.3H1984.9V718.1H1988.0V780.3H1991.1V772.9H1994.3V780.3H1997.4V736.6H2000.5V739.6H2003.6V806.2H2006.7V700.0H2009.9V718.1H2013.0V739.6H2016.1V710.0H2019.2V772.9H2022.3V762.9H2025.5V772.9H2028.6V798.8H2031.7V761.8H2034.8V758.1H2037.9V729.6H2041.1V758.1H2044.2V754.4H2047.3V725.9H2050.4V750.7H2053.5V747.0H2056.7V784.0H2059.8V744.0H2062.9V784.0H2066.0V736.6H2069.1V769.2H2072.3V780.3H2075.4V798.8H2078.5V733.3H2081.6V780.3H2084.7V787.7H2087.9V795.1H2091.0V777.7H2094.1V787.7H2097.2V769.9H2100.3V780.3H2103.5V792.1H2106.6V802.5H2109.7V699.6H2112.8V802.5H2115.9V791.4H2119.1V772.9H2122.2V762.5H2125.3V795.1H2128.4V780.3H2131.5V725.9H2134.7V755.5H2137.8V732.9H2140.9V810.6"/>
<path stroke="#a020f0" stroke-width="1.4" d="M272.0 769.2H275.1V810.6H278.3V673.0H281.4V776.2H284.5H287.6V761.8H290.7V732.2H293.9V747.0H297.0V758.1H300.1V732.2H303.2V772.9H306.3V732.2H309.5V754.4H312.6V784.0H315.7V776.6H318.8V750.7H321.9V784.0H325.1V743.3H328.2V761.8H331.3H334.4V698.9H337.5V750.7H340.7V776.6H343.8V750.7H346.9V776.6H350.0V743.3H353.1V758.1H356.3V787.7H359.4V843.2H362.5V754.4H365.6V750.7H368.7V787.7H371.9V802.5H375.0V761.8H378.1V843.2H381.2V758.1H384.3V665.6H387.5V802.5H390.6V735.9H393.7V769.2H396.8V787.7H399.9V832.1H403.1V809.9H406.2V695.2H409.3V758.1H412.4V776.6H415.5V780.3H418.7V769.2H421.8V739.6H424.9V761.8H428.0V791.4H431.1V776.6H434.3V772.9H437.4V765.5H440.5V787.7H443.6V743.3H446.7V769.2H449.9V761.8H453.0V758.1H456.1V791.4H459.2V761.8H462.3V787.7H465.5V754.4H468.6V761.8H471.7V750.7H474.8V802.5H477.9V750.7H481.1V821.0H484.2V798.8H487.3V791.4H490.4V717.4H493.5V721.1H496.7V795.1H499.8V780.3H502.9V769.2H506.0V772.9H509.1V795.1H512.3V776.6H515.4V795.1H518.5V769.2H521.6V713.7H524.7H527.9V802.5H531.0V728.5H534.1V798.8H537.2V717.7H540.3V735.9H543.5V765.5H546.6V843.2H549.7V758.1H552.8V772.9H555.9V776.6H559.1H562.2V750.7H565.3V735.9H568.4V784.0H571.5V772.9H574.7V769.2H577.8V750.7H580.9V758.1H584.0V798.8H587.1V743.3H590.3V780.3H593.4V761.8H596.5V780.3H599.6V798.8H602.7V765.5H605.9V754.4H609.0H612.1V795.1H615.2V743.3H618.3V776.6H621.5V802.5H624.6H627.7V809.9H630.8V750.7H633.9V784.0H637.1V754.4H640.2V765.5H643.3V784.0H646.4V765.5H649.5V802.5H652.7V795.1H655.8V806.2H658.9V769.2H662.0V787.7H665.1V758.1H668.3V765.5H671.4V798.8H674.5V809.9H677.6V791.4H680.7V802.5H683.9V821.0H687.0V717.4H690.1V784.0H693.2V813.6H696.3V754.4H699.5V758.1H702.6V750.7H705.7V776.6H708.8V765.5H711.9V843.2H715.1V776.6H718.2V809.9H721.3V776.6H724.4V791.4H727.5V772.9H730.7V821.0H733.8V717.4H736.9V791.4H740.0V776.6H743.1V724.8H746.3V765.5H749.4V784.0H752.5V843.2H755.6H758.7V806.2H761.9V817.3H765.0V802.5H768.1V806.2H771.2H774.3V772.9H777.5V798.8H780.6H783.7V765.5H786.8V791.4H789.9V798.8H793.1V843.2H796.2V787.7H799.3V809.9H802.4V787.7H805.5V806.2H808.7V784.0H811.8V780.3H814.9H818.0H821.1V784.0H824.3V769.2H827.4V843.2H830.5H833.6V795.1H836.7V787.7H839.9V843.2H843.0H846.1H849.2V769.2H852.3V813.6H855.5V787.7H858.6V765.5H861.7V843.2H864.8V795.1H867.9V809.9H871.1V787.7H874.2V772.9H877.3V769.2H880.4V758.1H883.5V761.8H886.7V813.6H889.8V769.2H892.9V813.6H896.0V784.0H899.1V795.1H902.3V802.5H905.4V784.0H908.5V791.4H911.6V761.8H914.7V784.0H917.9V772.9H921.0V787.7H924.1V784.0H927.2V806.2H930.3V776.6H933.5V798.8H936.6V809.9H939.7V798.8H942.8V780.3H945.9V754.4H949.1V728.5H952.2V791.4H955.3V802.5H958.4V806.2H961.5V791.4H964.7V787.7H967.8V761.8H970.9V769.2H974.0V791.4H977.1H980.3H983.4V813.6H986.5V795.1H989.6V784.0H992.7V776.6H995.9V784.0H999.0V791.4H1002.1V806.2H1005.2V787.7H1008.3V795.1H1011.5V798.8H1014.6V787.7H1017.7V802.5H1020.8V772.9H1023.9V817.3H1027.1V802.5H1030.2V776.6H1033.3V791.4H1036.4V802.5H1039.5V787.7H1042.7V784.0H1045.8V761.8H1048.9V750.7H1052.0V784.0H1055.1V747.0H1058.3V791.4H1061.4V798.8H1064.5V780.3H1067.6H1070.7V817.3H1073.9H1077.0V769.2H1080.1V806.2H1083.2V735.9H1086.3V784.0H1089.5V761.8H1092.6V824.7H1095.7V772.9H1098.8V821.0H1101.9V780.3H1105.1V724.8H1108.2V784.0H1111.3V809.9H1114.4V776.6H1117.5V843.2H1120.7V817.3H1123.8V776.6H1126.9V758.1H1130.0V739.6H1133.1V758.1H1136.3V732.2H1139.4V754.4H1142.5V772.9H1145.6V843.2H1148.7V747.0H1151.9V798.8H1155.0V784.0H1158.1V776.6H1161.2H1164.3V754.4H1167.5H1170.6V784.0H1173.7V780.3H1176.8V776.6H1179.9V780.3H1183.1V772.9H1186.2V754.4H1189.3V765.5H1192.4V843.2H1195.5V798.8H1198.7V795.1H1201.8V802.5H1204.9V761.8H1208.0V798.8H1211.1V765.5H1214.3V784.0H1217.4V739.6H1220.5V754.4H1223.6V776.6H1226.7V732.2H1229.9V772.9H1233.0V710.0H1236.1V732.2H1239.2V787.7H1242.3V765.5H1245.5V813.6H1248.6V780.3H1251.7V750.7H1254.8V772.9H1257.9V784.0H1261.1V776.6H1264.2V791.4H1267.3V787.7H1270.4V806.2H1273.5H1276.7H1279.8V743.3H1282.9V780.3H1286.0H1289.1V772.9H1292.3H1295.4V787.7H1298.5V743.3H1301.6V843.2H1304.7V772.9H1307.9V791.4H1311.0V758.1H1314.1V802.5H1317.2V780.3H1320.3V787.7H1323.5V813.6H1326.6V750.7H1329.7V787.7H1332.8V758.1H1335.9V776.6H1339.1V798.8H1342.2V758.1H1345.3V798.8H1348.4V732.2H1351.5V750.7H1354.7H1357.8V806.2H1360.9V772.9H1364.0V791.4H1367.1V754.4H1370.3V795.1H1373.4V769.2H1376.5V791.4H1379.6V798.8H1382.7H1385.9V761.8H1389.0V739.6H1392.1V787.7H1395.2V735.9H1398.3V780.3H1401.5V809.9H1404.6V798.8H1407.7V724.8H1410.8V780.3H1413.9V765.5H1417.1V780.3H1420.2V802.5H1423.3V776.6H1426.4V728.5H1429.5V765.5H1432.7V776.6H1435.8V798.8H1438.9V780.3H1442.0V765.5H1445.1V787.7H1448.3V750.7H1451.4V784.0H1454.5V780.3H1457.6V802.5H1460.7V765.5H1463.9V784.0H1467.0V750.7H1470.1V795.1H1473.2V780.3H1476.3V802.5H1479.5V791.4H1482.6H1485.7V750.7H1488.8V717.4H1491.9V776.6H1495.1V721.1H1498.2V706.3H1501.3V680.4H1504.4V754.4H1507.5V769.2H1510.7V787.7H1513.8V791.4H1516.9V761.8H1520.0V791.4H1523.1V772.9H1526.3V743.3H1529.4V695.2H1532.5V724.8H1535.6V650.8H1538.7V717.4H1541.9V576.7H1545.0V702.6H1548.1V706.3H1551.2V636.0H1554.3V798.8H1557.5V784.0H1560.6V698.9H1563.7V691.5H1566.8V602.7H1569.9V661.9H1573.1V665.6H1576.2V710.0H1579.3V713.7H1582.4V728.5H1585.5V665.6H1588.7V684.1H1591.8V602.7H1594.9V724.8H1598.0V687.8H1601.1V650.8H1604.3V624.9H1607.4V776.6H1610.5V621.2H1613.6V676.7H1616.7V624.9H1619.9V721.1H1623.0V650.8H1626.1V665.6H1629.2V795.1H1632.3V754.4H1635.5V780.3H1638.6V732.2H1641.7V765.5H1644.8V772.9H1647.9V787.7H1651.1V835.8H1654.2V721.1H1657.3V743.3H1660.4V772.9H1663.5V769.2H1666.7V758.1H1669.8V728.5H1672.9V747.0H1676.0V728.5H1679.1V724.8H1682.3V791.4H1685.4V754.4H1688.5V784.0H1691.6V758.1H1694.7V769.2H1697.9V765.5H1701.0V769.2H1704.1V795.1H1707.2V802.5H1710.3V761.8H1713.5V795.1H1716.6V754.4H1719.7V706.3H1722.8V724.8H1725.9V787.7H1729.1V843.2H1732.2V728.5H1735.3V787.7H1738.4V772.9H1741.5V798.8H1744.7V758.1H1747.8V747.0H1750.9V791.4H1754.0V769.2H1757.1V776.6H1760.3V739.6H1763.4V758.1H1766.5V795.1H1769.6V421.3H1772.7V706.3H1775.9V747.0H1779.0V784.0H1782.1V817.3H1785.2V735.9H1788.3V780.3H1791.5V743.3H1794.6V772.9H1797.7V791.4H1800.8V776.6H1803.9V795.1H1807.1V769.2H1810.2V776.6H1813.3V761.8H1816.4V809.9H1819.5V735.9H1822.7V754.4H1825.8V780.3H1828.9V747.0H1832.0V784.0H1835.1V769.2H1838.3V750.7H1841.4V758.1H1844.5V802.5H1847.6V747.0H1850.7V758.1H1853.9V769.2H1857.0V761.8H1860.1V828.4H1863.2V754.4H1866.3V761.8H1869.5V772.9H1872.6V717.4H1875.7V769.2H1878.8V765.5H1881.9V695.2H1885.1V750.7H1888.2V702.6H1891.3V743.3H1894.4V758.1H1897.5V843.2H1900.7V802.5H1903.8H1906.9V795.1H1910.0V787.7H1913.1V735.9H1916.3H1919.4V765.5H1922.5V743.3H1925.6V758.1H1928.7V732.2H1931.9V750.7H1935.0V728.5H1938.1V706.3H1941.2V758.1H1944.3V769.2H1947.5V784.0H1950.6V843.2H1953.7V735.9H1956.8V724.8H1959.9V750.7H1963.1V758.1H1966.2V843.2H1969.3V791.4H1972.4V784.0H1975.5V776.6H1978.7V735.9H1981.8V747.0H1984.9V724.8H1988.0V772.9H1991.1V806.2H1994.3V772.9H1997.4V721.1H2000.5V750.7H2003.6V765.5H2006.7V776.6H2009.9V717.4H2013.0V743.3H2016.1V776.6H2019.2V765.5H2022.3V754.4H2025.5V761.8H2028.6V795.1H2031.7V769.2H2034.8H2037.9V732.2H2041.1V769.2H2044.2V747.0H2047.3V750.7H2050.4V765.5H2053.5V787.7H2056.7V743.3H2059.8H2062.9V776.6H2066.0V735.9H2069.1V747.0H2072.3H2075.4V791.4H2078.5V743.3H2081.6V765.5H2084.7V795.1H2087.9V776.6H2091.0V739.6H2094.1V780.3H2097.2V743.3H2100.3V795.1H2103.5V769.2H2106.6V809.9H2109.7V750.7H2112.8V798.8H2115.9V802.5H2119.1V769.2H2122.2V765.5H2125.3V787.7H2128.4V750.7H2131.5V761.8H2134.7V732.2H2137.8V724.8H2140.9"/>
</g>
<g font-size="33.8px" opacity="0.999">
<rect x="268.0" y="1123" width="24.4" height="20.6" fill="#0000ff" stroke="#000" stroke-width="2.08"/>
<text x="322.2" y="1145">unique total</text>
<rect x="575.0" y="1123" width="24.4" height="20.6" fill="#00ffff" stroke="#000" stroke-width="2.08"/>
<text x="629.2" y="1145">unique top</text>
<rect x="882.0" y="1123" width="24.4" height="20.6" fill="#a020f0" stroke="#000" stroke-width="2.08"/>
<text x="936.2" y="1145">unique bottom</text>
<rect x="1189.0" y="1123" width="24.4" height="20.6" fill="#ff0000" stroke="#000" stroke-width="2.08"/>
<text x="1243.2" y="1145">repeat total</text>
<rect x="1496.0" y="1123" width="24.4" height="20.6" fill="#ffff00" stroke="#000" stroke-width="2.08"/>
<text x="1550.2" y="1145">repeat top</text>
<rect x="1803.0" y="1123" width="24.4" height="20.6" fill="#ffa500" stroke="#000" stroke-width="2.08"/>
<text x="1857.2" y="1145">repeat bottom</text>
</g>
<rect x="1166" y="1119.5" width="1.5" height="1.5" fill="#333"/>
</svg></body></html>
